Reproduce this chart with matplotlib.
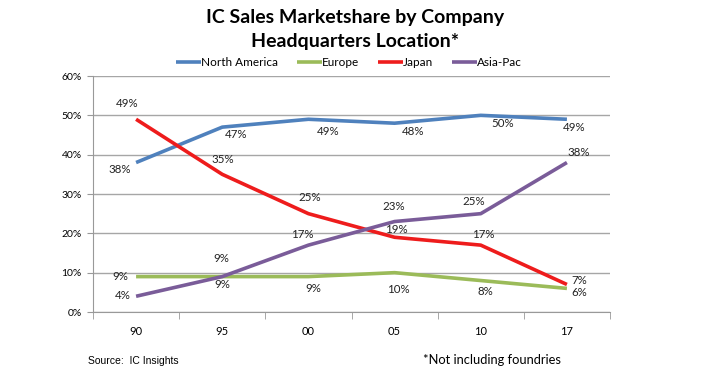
import matplotlib.pyplot as plt
from matplotlib.ticker import FixedLocator

plt.rcParams['font.family'] = ['Lato', 'DejaVu Sans']

# data
years = ['90', '95', '00', '05', '10', '17']
north_america = [38, 47, 49, 48, 50, 49]
europe = [9, 9, 9, 10, 8, 6]
japan = [49, 35, 25, 19, 17, 7]
asia_pac = [4, 9, 17, 23, 25, 38]

# label offsets (pixels, x right / y down)
na_off = [(-16, 7), (14, 7), (20, 12), (18, 8), (22, 8), (7, 8)]
eu_off = [(-16, 0), (0, 8), (5, 12), (4, 17), (5, 11), (12, 4)]
jp_off = [(-9, -16), (1, -15), (1, -16), (2, -8), (3, -11), (12, -4)]
ap_off = [(-13, -1), (-1, -18), (-6, -11), (-1, -15), (-7, -12), (12, -10)]

series = [
    ('North America', north_america, '#4F81BD', na_off),
    ('Europe', europe, '#9BBB59', eu_off),
    ('Japan', japan, '#EE1C1C', jp_off),
    ('Asia-Pac', asia_pac, '#7A5C99', ap_off),
]

fig = plt.figure(figsize=(7.11, 3.74), dpi=100)
ax = fig.add_axes([93 / 711, 1 - 312 / 374, 517 / 711, 236 / 374])

x = list(range(len(years)))
for name, vals, color, offs in series:
    ax.plot(x, vals, color=color, lw=2.6, label=name, solid_capstyle='butt')
for name, vals, color, offs in series:
    for xi, v, (dx, dy) in zip(x, vals, offs):
        ax.annotate(f'{v}%', (xi, v), xytext=(dx, -dy), textcoords='offset pixels',
                    ha='center', va='center', fontsize=8.3, color='#222222')

ax.set_xlim(-0.5, len(years) - 0.5)
ax.set_ylim(0, 60)
ax.set_yticks(range(0, 61, 10))
ax.set_yticklabels([f'{t}%' for t in range(0, 61, 10)], fontsize=7.5)
ax.set_xticks(x)
ax.set_xticklabels(years, fontsize=8)
ax.tick_params(axis='x', length=0, pad=10)
ax.xaxis.set_minor_locator(FixedLocator([i - 0.5 for i in range(len(years) + 1)]))
ax.tick_params(axis='x', which='minor', length=5, color='#999999', direction='out')
ax.tick_params(axis='y', length=4, color='#999999', pad=4)
ax.grid(axis='y', color='#A6A6A6', lw=1)
ax.set_axisbelow(True)
for s in ['top', 'right']:
    ax.spines[s].set_visible(False)
for s in ['left', 'bottom']:
    ax.spines[s].set_color('#999999')

fig.text(0.5, 1 - 18 / 374, 'IC Sales Marketshare by Company', ha='center', va='center',
         fontsize=14, fontweight='bold')
fig.text(0.5, 1 - 42 / 374, 'Headquarters Location*', ha='center', va='center',
         fontsize=14, fontweight='bold')

fig.legend(loc='center', bbox_to_anchor=(349 / 711, 1 - 63 / 374), ncol=4, frameon=False,
           fontsize=8.5, handlelength=2.1, handletextpad=0.0, columnspacing=1.6)

fig.text(88 / 711, 1 - 361 / 374, 'Source:  IC Insights', ha='left', va='center',
         fontsize=7.5, family='Liberation Sans')
fig.text(423 / 711, 1 - 360 / 374, '*Not including foundries', ha='left', va='center',
         fontsize=9.3)

fig.savefig('out.png', dpi=100)
